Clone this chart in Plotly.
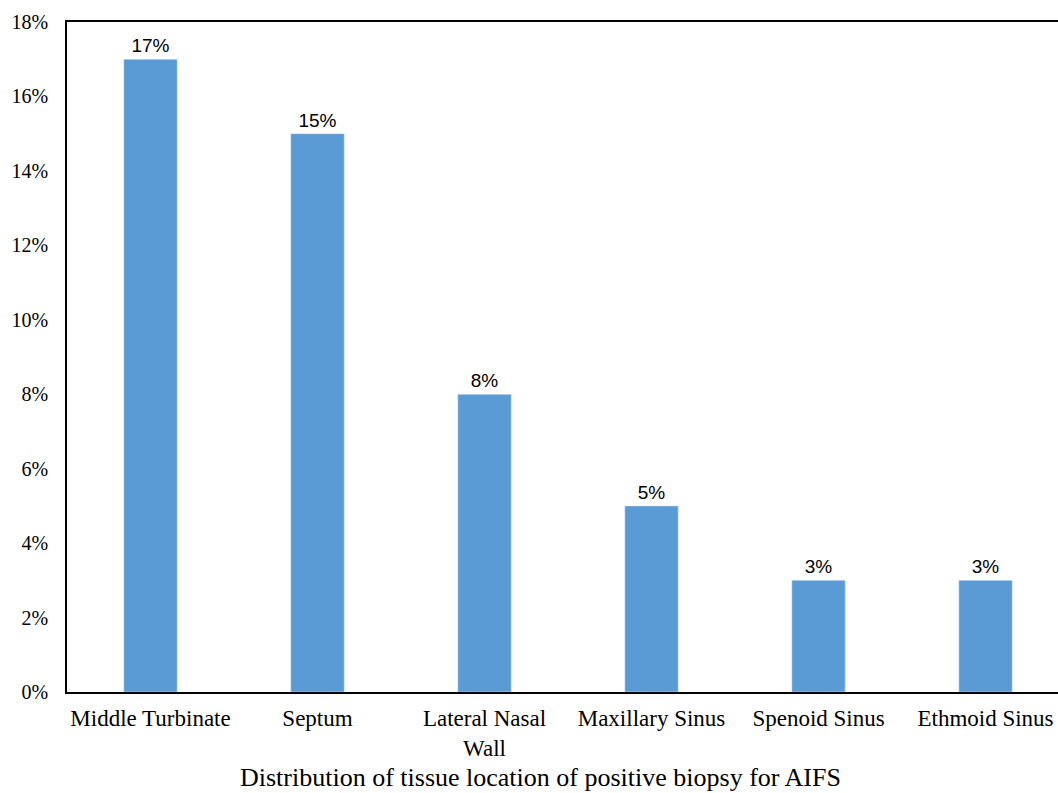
import plotly.graph_objects as go

categories = ["Middle Turbinate", "Septum", "Lateral Nasal<br>Wall", "Maxillary Sinus", "Spenoid Sinus", "Ethmoid Sinus"]
values = [17, 15, 8, 5, 3, 3]
y_ticks = [0, 2, 4, 6, 8, 10, 12, 14, 16, 18]
y_tick_labels = [f"{v}%" for v in y_ticks]
title_text = "Distribution of tissue location of positive biopsy for AIFS"

fig = go.Figure(go.Bar(
    x=categories, y=values,
    marker=dict(color="#5B9BD5"),
    text=[f"{v}%" for v in values],
    textposition="outside",
    textfont=dict(family="Liberation Sans, Arial", size=19, color="#000"),
    cliponaxis=False,
))

fig.update_layout(
    width=1058, height=793,
    margin=dict(l=67, r=0, t=22, b=101),
    plot_bgcolor="white", paper_bgcolor="white",
    bargap=0.68,
    showlegend=False,
    xaxis=dict(
        range=[-0.5, 5.434],
        showline=True, linecolor="black", linewidth=1.5, mirror=True,
        ticks="", showgrid=False,
        tickfont=dict(family="Liberation Serif, Times New Roman", size=23, color="#000"),
        ticklabelstandoff=5,
    ),
    yaxis=dict(
        range=[0, 18], tickvals=y_ticks, ticktext=y_tick_labels,
        showline=True, linecolor="black", linewidth=1.5,
        ticks="", showgrid=False, zeroline=False,
        tickfont=dict(family="Liberation Serif, Times New Roman", size=20, color="#000"),
        ticklabelstandoff=13,
    ),
    annotations=[dict(
        text=title_text, xref="paper", yref="paper",
        x=(540 - 67) / 991, y=-(778 - 692) / 670,
        xanchor="center", yanchor="middle", showarrow=False,
        font=dict(family="Liberation Serif, Times New Roman", size=26, color="#000"),
    )],
)

fig.write_html("out.html", config={"displayModeBar": False},
               post_script="document.body.style.margin='0';document.body.style.padding='0';")
